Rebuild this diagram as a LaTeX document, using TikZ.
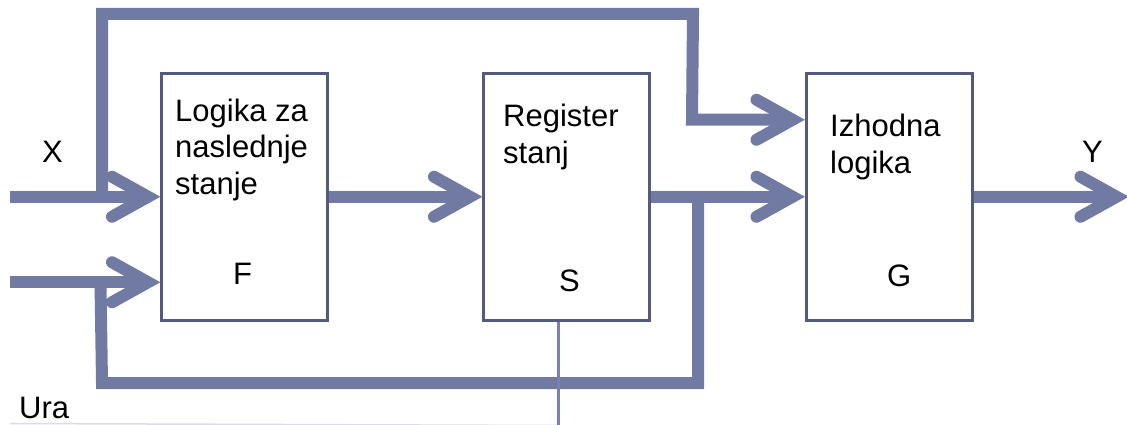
\documentclass[tikz,border=0pt]{standalone}
\usepackage{fontspec}
\setmainfont{Liberation Sans}
\usetikzlibrary{calc}
\definecolor{flowc}{RGB}{113,122,162}
\definecolor{framec}{RGB}{84,90,124}
\definecolor{clockc}{RGB}{120,128,172}
\definecolor{faintc}{RGB}{218,220,234}
% open barbed arrow head ending at the given point
\newcommand\barbat[1]{\draw[barbhead] ($(#1)+(-48,-20)$) -- ($(#1)+(-12,0)$) -- ($(#1)+(-48,20)$);}
\begin{document}
\begin{tikzpicture}[x=1pt,y=-1pt,
  blockbox/.style={draw=framec, line width=3pt, fill=white, minimum width=166pt,
    minimum height=246.5pt, inner sep=0pt},
  flow/.style={draw=flowc, line width=12pt, line join=miter},
  barbhead/.style={draw=flowc, line width=12pt, line cap=round, line join=miter},
  clockline/.style={draw=clockc, line width=3pt},
  lbl/.style={inner sep=0pt, anchor=base west, align=left,
    font=\fontsize{31}{36.5}\selectfont}]
\useasboundingbox (0,0) rectangle (1127,425);

% blocks
\node[blockbox] (F) at (244.5,196.75) {};
\node[blockbox] (S) at (566.5,196.75) {};
\node[blockbox] (G) at (889,196.75) {};

% helper points
\coordinate (xin)  at ($(F.west)+(-150,0)$);
\coordinate (fin2) at ($(F.west)+(0,85.5)$);
\coordinate (uin)  at ($(fin2)+(-150,0)$);
\coordinate (gin1) at ($(G.west)+(0,-77)$);
\coordinate (yout) at ($(G.east)+(155,0)$);
\coordinate (clk)  at ($(S.south)+(-8.5,0)$);
\coordinate (clkend) at ($(clk)+(0,110)$);
\coordinate (fbx) at ($(fin2)+(-59.5,0)$);

% input X and the bypass over the top to the output logic
\draw[flow] (xin) -- ($(F.west)+(-14,0)$);
\barbat{F.west}
\draw[flow] (102,196.75) -- (102,14) -- (693,14) -- ($(gin1)+(-112.5,0)$) -- ($(gin1)+(-14,0)$);
\barbat{gin1}

% second input fed back from the state register
\draw[flow] (uin) -- ($(fin2)+(-14,0)$);
\barbat{fin2}

% next state logic to register
\draw[flow] (F.east) -- ($(S.west)+(-14,0)$);
\barbat{S.west}

% register to output logic, with the feedback loop
\draw[flow] (S.east) -- ($(G.west)+(-14,0)$);
\barbat{G.west}
\draw[flow] (698,196.75) -- (698,383) -- (102,383) -- (fbx);

% output Y
\draw[flow] (G.east) -- ($(yout)+(-14,0)$);
\barbat{yout}

% clock
\draw[faintc, line width=1.5pt] (10,423.5) -- ($(clk)+(0,104)$);
\draw[clockline] (clk) -- (clkend);

% labels (multi-line labels are placed by the baseline of their last line)
\node[lbl] (tx) at (42,162) {X};
\node[lbl] (ty) at (1082,162) {Y};
\node[lbl] (tura) at (19,418) {Ura};
\node[lbl] (tf) at (175,194) {Logika za\\naslednje\\stanje};
\node[lbl] (ts) at (503,163.5) {Register\\stanj};
\node[lbl] (tg) at (830,173) {Izhodna\\logika};
\node[lbl] (tF) at (233,284) {F};
\node[lbl] (tS) at (559,291) {S};
\node[lbl] (tG) at (887,286) {G};
\end{tikzpicture}
\end{document}
